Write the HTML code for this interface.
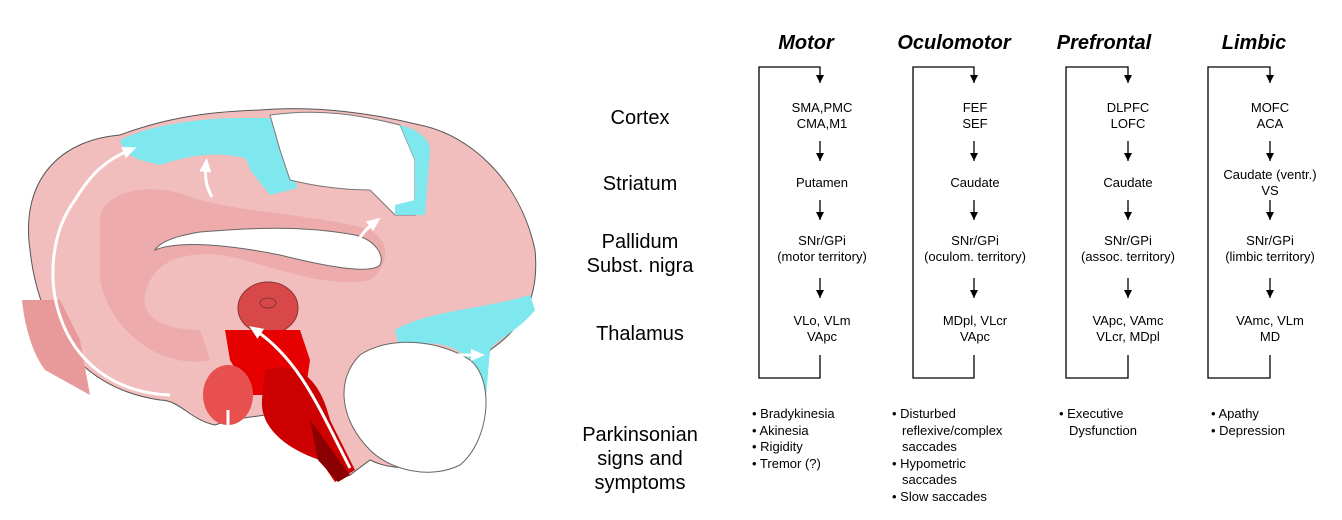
<!DOCTYPE html>
<html><head><meta charset="utf-8"><style>
html,body{margin:0;padding:0;background:#fff;}
svg{display:block;font-family:"Liberation Sans",Arial,sans-serif;}
</style></head><body>
<svg width="1342" height="520" viewBox="0 0 1342 520" xmlns="http://www.w3.org/2000/svg">
<defs>
<marker id="ah" markerWidth="8" markerHeight="8" refX="8" refY="4" orient="auto" markerUnits="userSpaceOnUse">
<path d="M0,0 L8,4 L0,8 z" fill="#000"/></marker>
<marker id="wa" markerWidth="14" markerHeight="14" refX="7" refY="7" orient="auto" markerUnits="userSpaceOnUse">
<path d="M0,1 L14,7 L0,13 z" fill="#fff"/></marker>
</defs>
<!-- Brain -->
<g stroke="#555" stroke-width="1">
<path d="M30,250 C20,180 60,140 120,135 C160,120 200,112 260,110 C320,105 380,115 420,125 C470,135 520,180 535,250 C540,300 520,330 490,350 L470,420 C450,470 400,475 370,460 L350,475 L335,480 L320,420 L300,410 L230,420 L215,425 C190,420 180,400 160,400 C90,390 40,340 30,250 Z" fill="#f2bdbd"/>
</g>
<path d="M120,140 C150,125 200,118 240,118 L270,120 L272,150 L250,160 C220,150 190,155 160,165 C140,160 125,158 120,140 Z" fill="#7fe8ee"/>
<path d="M232,118 L270,118 L285,160 L298,188 L270,195 L250,170 Z" fill="#7fe8ee"/>
<path d="M270,115 C320,108 360,115 400,125 L415,160 L415,215 L395,215 L370,190 C340,190 310,185 290,180 L280,150 Z" fill="#ffffff" stroke="#777"/>
<path d="M400,125 C420,130 430,140 430,150 L425,215 L395,215 L395,205 L415,200 L415,160 Z" fill="#7fe8ee"/>
<path d="M395,330 C430,310 480,310 530,295 L535,310 C520,330 495,340 490,350 L485,410 C480,440 470,440 470,420 L470,360 C450,340 420,340 400,350 Z" fill="#7fe8ee"/>
<path d="M100,215 C110,190 150,180 200,200 C260,215 320,215 370,230 C390,240 390,265 370,280 C320,290 260,260 220,255 C170,250 150,270 145,295 C140,320 170,330 200,330 L210,360 C160,370 110,330 100,280 Z" fill="#e89a9a" opacity="0.5"/>
<path d="M155,250 C180,240 230,245 280,255 C320,265 370,275 380,265 C385,255 375,240 355,235 C300,225 250,228 200,232 C175,236 160,242 155,250 Z" fill="#ffffff" stroke="#666"/>
<path d="M22,300 L60,300 L80,340 L90,395 L45,370 C30,350 24,320 22,300 Z" fill="#e89a9a"/>
<ellipse cx="268" cy="308" rx="30" ry="26" fill="#d84848" stroke="#833"/>
<ellipse cx="268" cy="303" rx="8" ry="5" fill="none" stroke="#833"/>
<path d="M225,330 L300,330 L310,360 L305,395 L250,395 L230,360 Z" fill="#e60000"/>
<ellipse cx="228" cy="395" rx="25" ry="30" fill="#e85050"/>
<path d="M265,370 C300,360 320,380 330,420 L355,470 L335,482 L320,460 C290,450 260,430 262,400 Z" fill="#cc0000"/>
<path d="M310,420 L350,475 L338,482 L318,460 Z" fill="#8b0000"/>
<path d="M360,355 C390,335 440,340 470,360 C495,380 490,440 460,465 C430,480 390,470 370,450 C340,420 335,380 360,355 Z" fill="#ffffff" stroke="#666"/>
<g fill="none" stroke="#fff" stroke-width="3">
<path d="M170,395 C50,390 30,260 75,200 C90,175 105,160 130,150" marker-end="url(#wa)"/>
<path d="M212,197 C205,185 205,175 206,165" marker-end="url(#wa)"/>
<path d="M356,268 C350,250 358,235 375,222" marker-end="url(#wa)"/>
<path d="M350,468 C320,410 300,360 255,330" marker-end="url(#wa)"/>
<path d="M440,355 L478,355" marker-end="url(#wa)"/>
<path d="M228,425 L228,410"/>
</g>
<!-- Row labels -->
<g font-size="20" fill="#000" text-anchor="middle">
<text x="640" y="124">Cortex</text>
<text x="640" y="190">Striatum</text>
<text x="640" y="248">Pallidum</text>
<text x="640" y="272">Subst. nigra</text>
<text x="640" y="340">Thalamus</text>
<text x="640" y="441">Parkinsonian</text>
<text x="640" y="465">signs and</text>
<text x="640" y="489">symptoms</text>
</g>
<!-- Headers -->
<g font-size="20" font-weight="bold" font-style="italic" text-anchor="middle">
<text x="806" y="49">Motor</text>
<text x="954" y="49">Oculomotor</text>
<text x="1104" y="49">Prefrontal</text>
<text x="1254" y="49">Limbic</text>
</g>
<!-- Loops -->
<g stroke="#000" stroke-width="1.3" fill="none">
<path d="M820,355 L820,378 L759,378 L759,67 L820,67 L820,83" marker-end="url(#ah)"/>
<path d="M974,355 L974,378 L913,378 L913,67 L974,67 L974,83" marker-end="url(#ah)"/>
<path d="M1128,355 L1128,378 L1066,378 L1066,67 L1128,67 L1128,83" marker-end="url(#ah)"/>
<path d="M1270,355 L1270,378 L1208,378 L1208,67 L1270,67 L1270,83" marker-end="url(#ah)"/>
<g id="arrs">
<path d="M820,141 L820,161" marker-end="url(#ah)"/>
<path d="M820,200 L820,220" marker-end="url(#ah)"/>
<path d="M820,278 L820,298" marker-end="url(#ah)"/>
</g>
<use href="#arrs" x="154"/>
<use href="#arrs" x="308"/>
<use href="#arrs" x="450"/>
</g>
<g font-size="13" text-anchor="middle" fill="#000">
<text x="822" y="112">SMA,PMC</text><text x="822" y="128">CMA,M1</text>
<text x="822" y="187">Putamen</text>
<text x="822" y="245">SNr/GPi</text><text x="822" y="261">(motor territory)</text>
<text x="822" y="325">VLo, VLm</text><text x="822" y="341">VApc</text>
<text x="975" y="112">FEF</text><text x="975" y="128">SEF</text>
<text x="975" y="187">Caudate</text>
<text x="975" y="245">SNr/GPi</text><text x="975" y="261">(oculom. territory)</text>
<text x="975" y="325">MDpl, VLcr</text><text x="975" y="341">VApc</text>
<text x="1128" y="112">DLPFC</text><text x="1128" y="128">LOFC</text>
<text x="1128" y="187">Caudate</text>
<text x="1128" y="245">SNr/GPi</text><text x="1128" y="261">(assoc. territory)</text>
<text x="1128" y="325">VApc, VAmc</text><text x="1128" y="341">VLcr, MDpl</text>
<text x="1270" y="112">MOFC</text><text x="1270" y="128">ACA</text>
<text x="1270" y="179">Caudate (ventr.)</text><text x="1270" y="195">VS</text>
<text x="1270" y="245">SNr/GPi</text><text x="1270" y="261">(limbic territory)</text>
<text x="1270" y="325">VAmc, VLm</text><text x="1270" y="341">MD</text>
</g>
<g font-size="13" fill="#000">
<text x="752" y="418">• Bradykinesia</text>
<text x="752" y="435">• Akinesia</text>
<text x="752" y="451">• Rigidity</text>
<text x="752" y="468">• Tremor (?)</text>
<text x="892" y="418">• Disturbed</text>
<text x="902" y="435">reflexive/complex</text>
<text x="902" y="451">saccades</text>
<text x="892" y="468">• Hypometric</text>
<text x="902" y="484">saccades</text>
<text x="892" y="501">• Slow saccades</text>
<text x="1059" y="418">• Executive</text>
<text x="1069" y="435">Dysfunction</text>
<text x="1211" y="418">• Apathy</text>
<text x="1211" y="435">• Depression</text>
</g>
</svg>
</body></html>
